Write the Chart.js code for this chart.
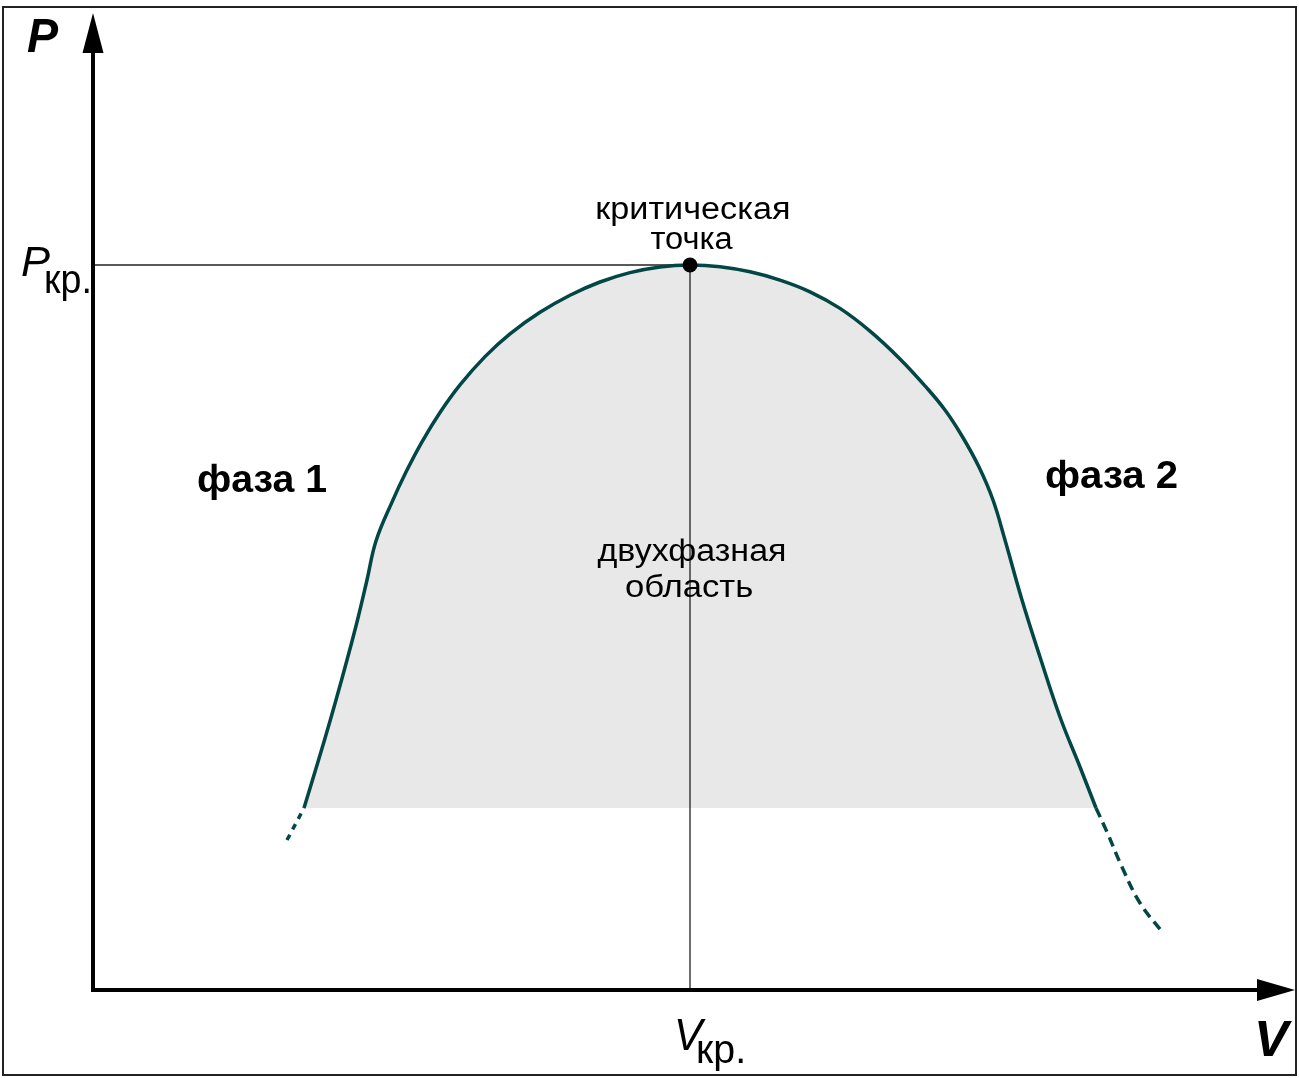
<!DOCTYPE html>
<html>
<head>
<meta charset="utf-8">
<script src="https://cdn.jsdelivr.net/npm/chart.js@4/dist/chart.umd.min.js"></script>
<style>
html,body{margin:0;padding:0;background:#fff;overflow:hidden;}
canvas{display:block;}
</style>
</head>
<body>
<canvas id="c" width="1299" height="1078"></canvas>
<script>
// ---- data (arbitrary units) ----
const critV = 5.97;
const critP = 7.25;
const baseP = 1.82; // lower edge of the two-phase shaded region

const leftV  = [2.11, 2.195, 2.315, 2.43, 2.54, 2.645, 2.74, 2.83, 2.99, 3.13, 3.29, 3.47, 3.67, 3.92, 4.17, 4.47, 4.77, 5.07, 5.37, 5.67, 5.97];
const leftP  = [1.82, 2.10, 2.50, 2.90, 3.30, 3.70, 4.10, 4.49, 4.879, 5.18, 5.482, 5.775, 6.051, 6.334, 6.562, 6.777, 6.948, 7.08, 7.174, 7.231, 7.25];
const rightV = [6.27, 6.57, 6.87, 7.17, 7.47, 7.77, 8.07, 8.32, 8.52, 8.69, 8.86, 9.00, 9.12, 9.29, 9.47, 9.67, 9.87, 10.03];
const rightP = [7.233, 7.182, 7.099, 6.982, 6.816, 6.589, 6.311, 6.041, 5.80, 5.54, 5.23, 4.90, 4.50, 3.90, 3.33, 2.73, 2.23, 1.82];

const dashLeftV  = [1.94, 2.02, 2.11];
const dashLeftP  = [1.50, 1.65, 1.82];
const dashRightV = [10.03, 10.14, 10.29, 10.47, 10.70];
const dashRightP = [1.82, 1.58, 1.23, 0.87, 0.57];

const axisEndV = 12.02; // arrow tips
const axisEndP = 9.77;

const labelP = "P", labelV = "V", subKr = "кр.";
const critText = ["критическая", "точка"];
const twoPhaseText = ["двухфазная", "область"];
const phase1 = "фаза 1", phase2 = "фаза 2";

// ---- build ----
const zip = (xs, ys) => xs.map((x, i) => ({x, y: ys[i]}));
const dome = zip(leftV.concat(rightV), leftP.concat(rightP));

const curveColor = '#024646';
const FONT = '"Liberation Sans", Arial, sans-serif';

function fitText(ctx, text, font, inkLeft, baseline, targetW) {
  ctx.save();
  ctx.font = font;
  ctx.textAlign = 'left';
  ctx.textBaseline = 'alphabetic';
  const m = ctx.measureText(text);
  const inkW = m.actualBoundingBoxLeft + m.actualBoundingBoxRight;
  const s = targetW / inkW;
  ctx.translate(inkLeft, baseline);
  ctx.scale(s, 1);
  ctx.fillStyle = '#000';
  ctx.fillText(text, m.actualBoundingBoxLeft, 0);
  ctx.restore();
}

const decorPlugin = {
  id: 'decor',
  afterDatasetsDraw(chart) {
    const ctx = chart.ctx;
    const xs = chart.scales.x, ys = chart.scales.y;
    const x0 = xs.getPixelForValue(0), y0 = ys.getPixelForValue(0);
    const xEnd = xs.getPixelForValue(axisEndV), yEnd = ys.getPixelForValue(axisEndP);
    ctx.save();
    ctx.strokeStyle = '#000';
    ctx.fillStyle = '#000';
    ctx.lineWidth = 4;
    ctx.lineCap = 'butt';
    // y axis
    ctx.beginPath();
    ctx.moveTo(x0, y0 + 2);
    ctx.lineTo(x0, yEnd + 30);
    ctx.stroke();
    ctx.beginPath();
    ctx.moveTo(x0, yEnd);
    ctx.lineTo(x0 - 10.5, yEnd + 40);
    ctx.lineTo(x0 + 10.5, yEnd + 40);
    ctx.closePath();
    ctx.fill();
    // x axis
    ctx.beginPath();
    ctx.moveTo(x0 - 2, y0);
    ctx.lineTo(xEnd - 30, y0);
    ctx.stroke();
    ctx.beginPath();
    ctx.moveTo(xEnd, y0);
    ctx.lineTo(xEnd - 38, y0 - 11);
    ctx.lineTo(xEnd - 38, y0 + 11);
    ctx.closePath();
    ctx.fill();
    // frame
    ctx.lineWidth = 2;
    ctx.strokeStyle = '#222';
    ctx.strokeRect(3, 7, 1293, 1068);
    ctx.restore();

    const cx = xs.getPixelForValue(critV);
    const cy = ys.getPixelForValue(critP);
    // axis labels
    fitText(ctx, labelP, 'italic bold 48px ' + FONT, 27, 52, 32);
    fitText(ctx, labelV, 'italic bold 50px ' + FONT, 1258, 1056, 34);
    fitText(ctx, labelP, 'italic 42px ' + FONT, 22, cy + 11, 28);
    fitText(ctx, subKr, '40px ' + FONT, 46, cy + 28, 43);
    fitText(ctx, labelV, 'italic 44px ' + FONT, cx - 13, y0 + 60, 29);
    fitText(ctx, subKr, '40px ' + FONT, cx + 8, y0 + 73, 45);
    // critical point
    fitText(ctx, critText[0], '31px ' + FONT, cx + 3 - 95.5, cy - 46, 191);
    fitText(ctx, critText[1], '31px ' + FONT, cx + 2 - 41.5, cy - 16, 83);
    // two-phase
    fitText(ctx, twoPhaseText[0], '31px ' + FONT, cx + 1 - 93.5, 561, 187);
    fitText(ctx, twoPhaseText[1], '31px ' + FONT, cx - 1 - 63, 597, 126);
    // phases
    fitText(ctx, phase1, 'bold 38px ' + FONT, 198, 492, 129);
    fitText(ctx, phase2, 'bold 38px ' + FONT, 1046, 488, 131);
  }
};

new Chart(document.getElementById('c'), {
  type: 'scatter',
  data: {
    datasets: [
      { // critical point
        data: [{x: critV, y: critP}],
        pointRadius: 7.5, pointBackgroundColor: '#000', pointBorderWidth: 0,
        showLine: false, order: 0
      },
      { // dome curve
        data: dome, showLine: true, borderColor: curveColor, borderWidth: 3.5,
        pointRadius: 0, tension: 0.4, fill: false, order: 1
      },
      { // dashed continuations
        data: zip(dashLeftV, dashLeftP), showLine: true, borderColor: curveColor, borderWidth: 3.5,
        borderDash: [6, 6], pointRadius: 0, tension: 0, fill: false, order: 1
      },
      {
        data: zip(dashRightV, dashRightP), showLine: true, borderColor: curveColor, borderWidth: 3.5,
        borderDash: [10, 6], pointRadius: 0, tension: 0.4, fill: false, order: 1
      },
      { // guide lines
        data: [{x: 0, y: critP}, {x: critV, y: critP}], showLine: true, borderColor: '#222',
        borderWidth: 1.3, pointRadius: 0, fill: false, order: 2
      },
      {
        data: [{x: critV, y: critP}, {x: critV, y: 0}], showLine: true, borderColor: '#222',
        borderWidth: 1.3, pointRadius: 0, fill: false, order: 2
      },
      { // shaded region
        data: dome, showLine: true, borderWidth: 0, borderColor: 'rgba(0,0,0,0)',
        backgroundColor: '#e8e8e8', fill: {value: baseP}, pointRadius: 0,
        tension: 0.4, order: 3
      }
    ]
  },
  options: {
    responsive: false,
    animation: false,
    layout: {padding: 0, autoPadding: false},
    plugins: {legend: {display: false}, tooltip: {enabled: false}},
    events: [],
    scales: {
      x: {type: 'linear', min: -0.93, max: 12.06, display: false},
      y: {type: 'linear', min: -0.88, max: 9.90, display: false}
    }
  },
  plugins: [decorPlugin]
});
</script>
</body>
</html>
